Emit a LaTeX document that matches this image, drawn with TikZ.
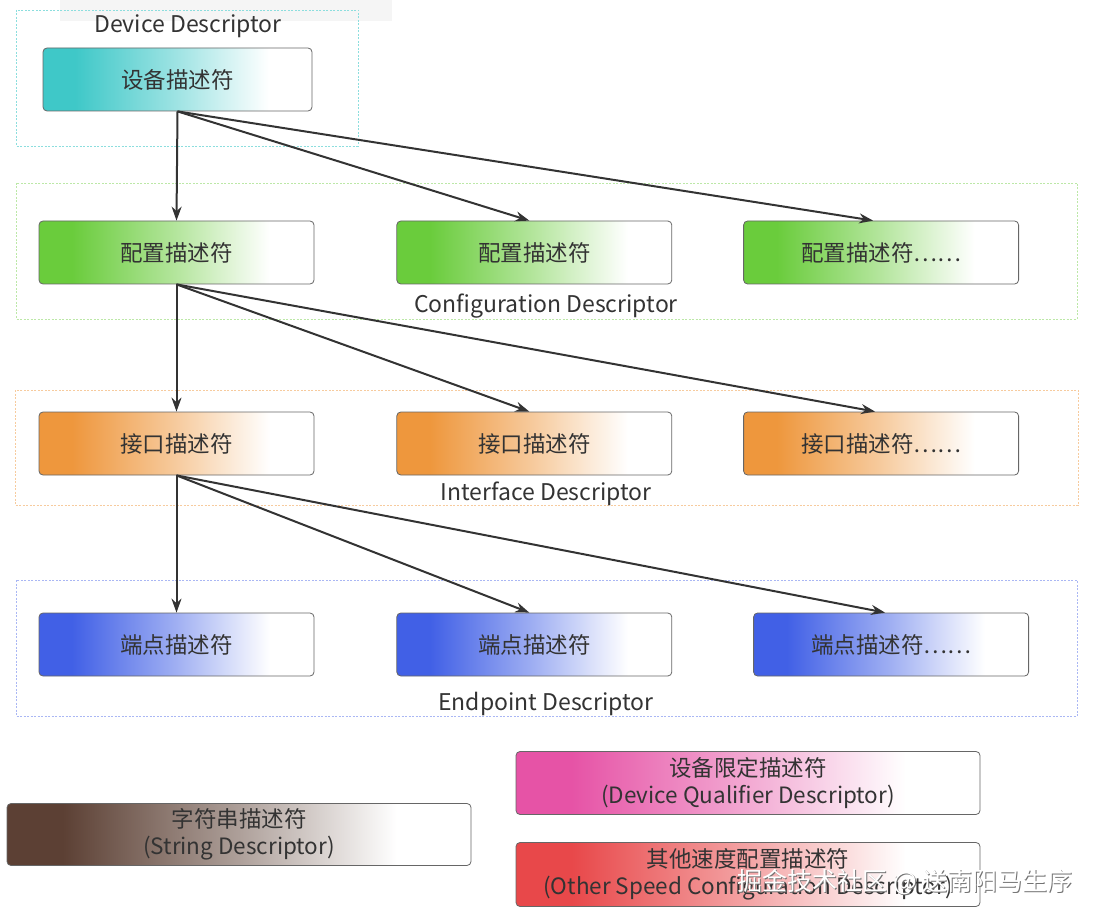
\documentclass[tikz,border=0pt]{standalone}
\usepackage{fontspec}
\setmainfont{Noto Sans CJK SC}
\usetikzlibrary{positioning,arrows.meta}

\definecolor{txtcol}{HTML}{333333}
\definecolor{devcol}{HTML}{3FC8C8}
\definecolor{cfgcol}{HTML}{6ACC3C}
\definecolor{ifcol}{HTML}{EE973D}
\definecolor{epcol}{HTML}{4160E6}
\definecolor{strcol}{HTML}{5C4034}
\definecolor{qualcol}{HTML}{E653A6}
\definecolor{othcol}{HTML}{E8484A}

\newcommand\fadeshading[2]{%
  \pgfdeclarehorizontalshading{#1}{100bp}{color(0bp)=(#2); color(31bp)=(#2);
    color(50bp)=(#2!50!white); color(67bp)=(white); color(100bp)=(white)}}
\fadeshading{devfade}{devcol}
\fadeshading{cfgfade}{cfgcol}
\fadeshading{iffade}{ifcol}
\fadeshading{epfade}{epcol}
\fadeshading{strfade}{strcol}
\fadeshading{qualfade}{qualcol}
\fadeshading{othfade}{othcol}

\tikzset{
  descbox/.style={draw=black!60, rounded corners=4pt, line width=0.8pt,
    minimum width=275pt, minimum height=63pt, inner sep=0pt, text=txtcol,
    font=\fontsize{22.5}{27}\selectfont, align=center},
  widebox/.style={descbox, minimum width=464pt},
  group/.style={dash pattern=on 2pt off 1.5pt, line width=0.6pt},
  grouplabel/.style={text=txtcol, font=\fontsize{23}{25}\selectfont},
  link/.style={draw=txtcol, line width=2pt, -{Stealth[length=14pt,width=10pt]}},
}

\begin{document}
\begin{tikzpicture}[x=1pt, y=-1pt]
  \useasboundingbox (0,0) rectangle (1096,920);
  \fill[black!4] (60,0) rectangle (392,21);

  % groups
  \draw[group, devcol!60] (16,10) rectangle (358,146);
  \draw[group, cfgcol!45] (16,183) rectangle (1077,319);
  \draw[group, ifcol!50] (15,390) rectangle (1078,505);
  \draw[group, epcol!45] (16,580) rectangle (1077,716);

  \node[grouplabel] (devlbl) at (188,26) {Device Descriptor};
  \node[grouplabel] (cfglbl) at (546,306) {Configuration Descriptor};
  \node[grouplabel] (iflbl) at (546,494) {Interface Descriptor};
  \node[grouplabel] (eplbl) at (546,704) {Endpoint Descriptor};

  % device
  \node[descbox, shading=devfade, minimum width=269pt] (dev) at (177.5,79.5) {设备描述符};

  % configuration
  \node[descbox, shading=cfgfade] (c1) at (176.5,252.5) {配置描述符};
  \node[descbox, shading=cfgfade, right=82pt of c1] (c2) {配置描述符};
  \node[descbox, shading=cfgfade, right=71pt of c2] (c3) {配置描述符\ldots\ldots};

  % interface
  \node[descbox, shading=iffade] (i1) at (176.5,443.5) {接口描述符};
  \node[descbox, shading=iffade, right=82pt of i1] (i2) {接口描述符};
  \node[descbox, shading=iffade, right=71pt of i2] (i3) {接口描述符\ldots\ldots};

  % endpoint
  \node[descbox, shading=epfade] (e1) at (176.5,644.5) {端点描述符};
  \node[descbox, shading=epfade, right=82pt of e1] (e2) {端点描述符};
  \node[descbox, shading=epfade, right=81pt of e2] (e3) {端点描述符\ldots\ldots};

  % others
  \node[widebox, shading=qualfade] (qual) at (748,783) {设备限定描述符\\(Device Qualifier Descriptor)};
  \node[widebox, shading=strfade, minimum height=62pt] (str) at (239,834.5) {字符串描述符\\(String Descriptor)};
  \node[widebox, shading=othfade, minimum height=64pt] (oth) at (748,874.5) {其他速度配置描述符\\(Other Speed Configuration Descriptor)};

  \draw[link] (dev.south) -- (c1.north);
  \draw[link] (dev.south) -- ([xshift=-5pt]c2.north);
  \draw[link] (dev.south) -- ([xshift=-8pt]c3.north);

  \draw[link] (c1.south) -- (i1.north);
  \draw[link] (c1.south) -- ([xshift=-5pt]i2.north);
  \draw[link] (c1.south) -- ([xshift=-6pt]i3.north);

  \draw[link] (i1.south) -- (e1.north);
  \draw[link] (i1.south) -- ([xshift=-5pt]e2.north);
  \draw[link] (i1.south) -- ([xshift=-6pt]e3.north);

  % watermark
  \node[text=black!55, font=\fontsize{25}{28}\selectfont] (markshadow) at (906,883) {掘金技术社区 @ 送南阳马生序};
  \node[text=white, font=\fontsize{25}{28}\selectfont] (mark) at (905,882) {掘金技术社区 @ 送南阳马生序};
\end{tikzpicture}
\end{document}
